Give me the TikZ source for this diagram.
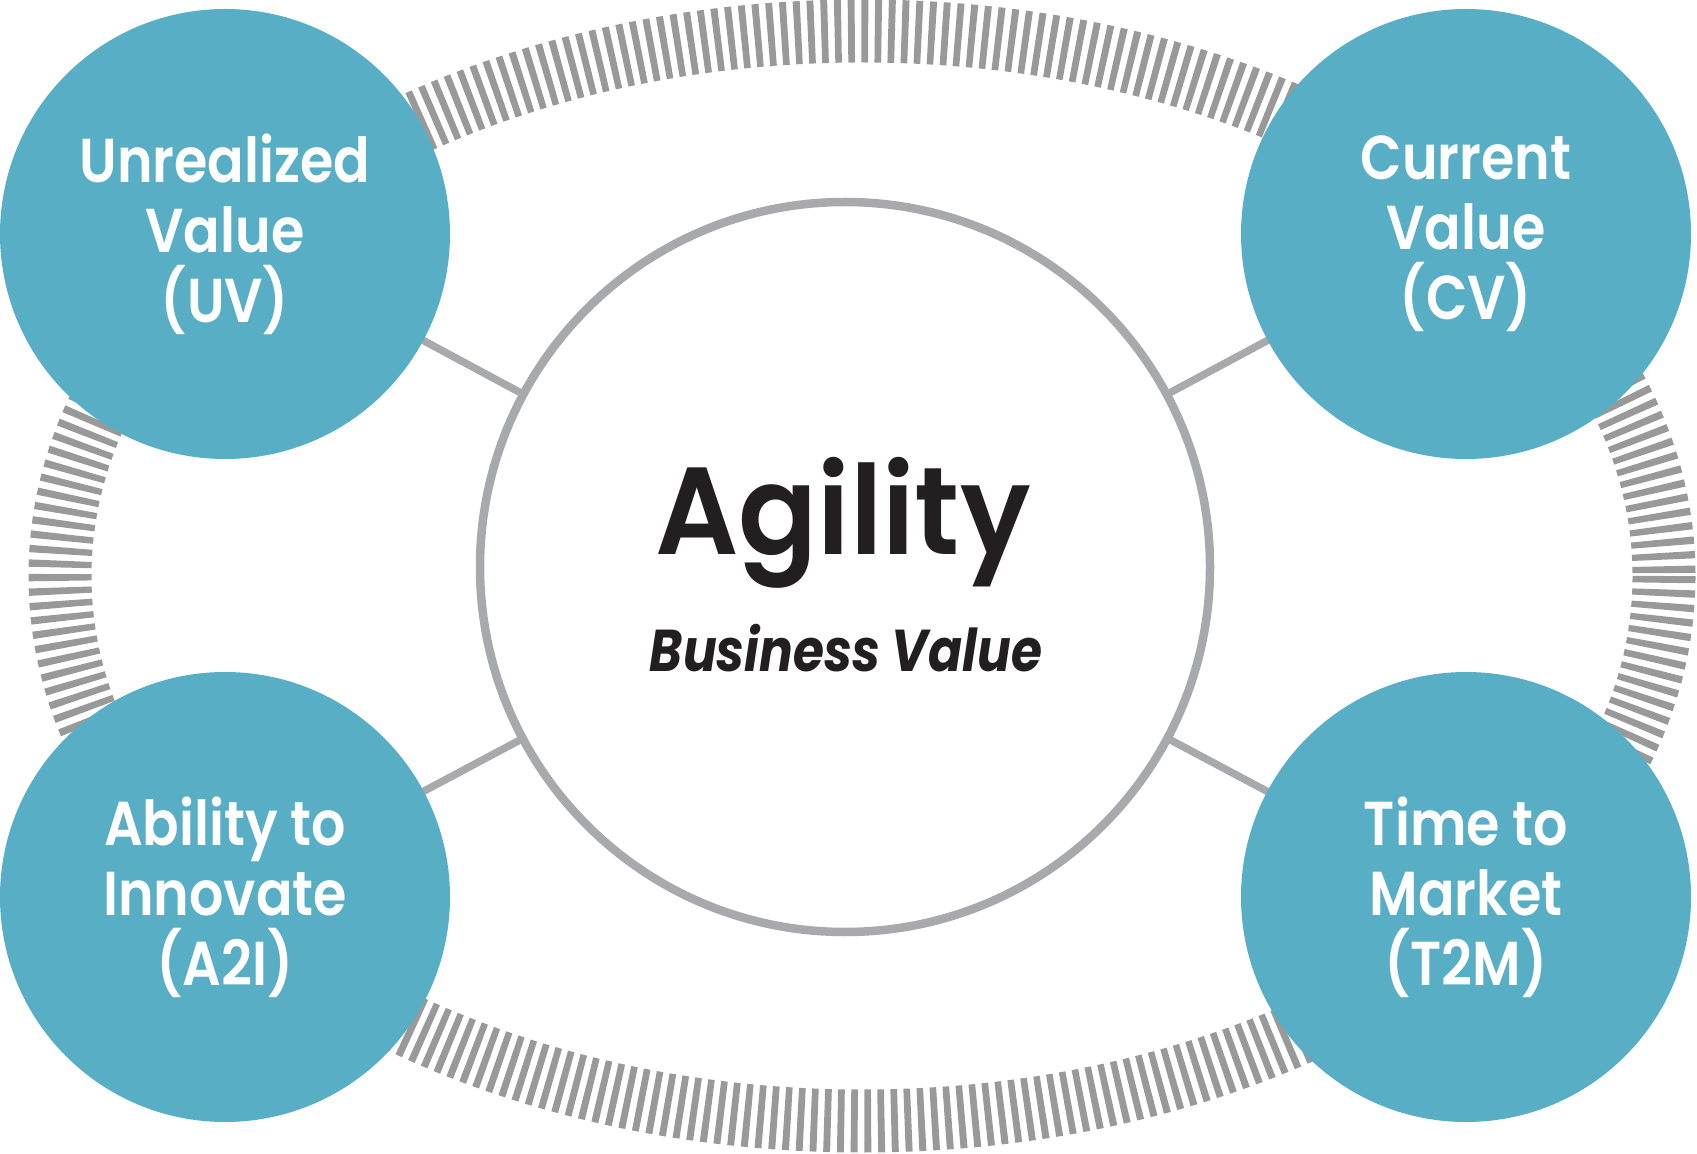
\documentclass[tikz,border=0pt]{standalone}
\usepackage{fontspec}
\usetikzlibrary{backgrounds}
\newfontfamily\popfont{Poppins SemiBold}[FakeStretch=0.87]
\newfontfamily\agilfont{Poppins SemiBold}[FakeStretch=0.94]
\newfontfamily\bvfont{Poppins}[FakeStretch=0.85]
\definecolor{blueC}{HTML}{57AEC5}
\definecolor{ringgray}{HTML}{999999}
\definecolor{linegray}{HTML}{A7A9AC}
\definecolor{inkblack}{HTML}{231F20}
\begin{document}
\begin{tikzpicture}[x=0.5pt,y=-0.5pt,
  valuecircle/.style={circle, fill=blueC, minimum size=225pt, inner sep=0pt, outer sep=0pt,
    align=center, text=white, font=\popfont\fontsize{31}{35}\selectfont},
  hub/.style={circle, draw=linegray, line width=4.25pt, fill=white, minimum size=365pt,
    inner sep=0pt, outer sep=0pt},
  spoke/.style={draw=linegray, line width=3.75pt},
  ring/.style={draw=ringgray, line width=31.5pt, dash pattern=on 3.4pt off 3.3pt},
  title/.style={text=inkblack, inner sep=0pt, anchor=base}]
\useasboundingbox (0,0) rectangle (1697,1154);
\node[hub] (hub) at (845,567) {};
\node[valuecircle] (uv) at (225,234) {Unrealized\\Value\\(UV)};
\node[valuecircle] (cv) at (1466,234) {Current\\Value\\(CV)};
\node[valuecircle] (a2i) at (225,897) {Ability to\\Innovate\\(A2I)};
\node[valuecircle] (t2m) at (1466,897) {Time to\\Market\\(T2M)};
\begin{pgfonlayer}{background}
  \coordinate (ringc) at (862,576);
  \draw[ring] (ringc) ellipse [x radius=802, y radius=545];
  \draw[spoke] (hub.center) -- (uv.center);
  \draw[spoke] (hub.center) -- (cv.center);
  \draw[spoke] (hub.center) -- (a2i.center);
  \draw[spoke] (hub.center) -- (t2m.center);
\end{pgfonlayer}
\node[title, font=\agilfont\fontsize{62}{62}\selectfont] (agility) at (843,555) {Agility};
\node[title, font=\bvfont\bfseries\itshape\fontsize{29.5}{29.5}\selectfont] (bv) at (846,671) {Business Value};
\end{tikzpicture}
\end{document}
